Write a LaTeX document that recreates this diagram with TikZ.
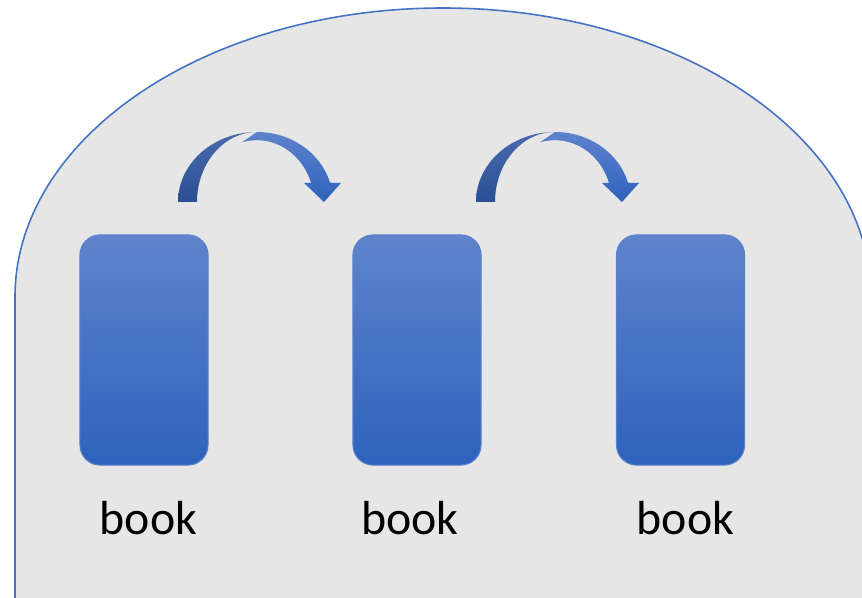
\documentclass[tikz,border=0pt]{standalone}
\usepackage{fontspec}
\setmainfont{Carlito}

\definecolor{panelgrey}{HTML}{E6E6E6}
\definecolor{paneledge}{HTML}{4472C4}
\definecolor{boxtop}{HTML}{5F84CC}
\definecolor{boxbot}{HTML}{2E62BC}
\definecolor{boxedge}{HTML}{5A80CC}
\definecolor{hopdarktop}{HTML}{4A6AAD}
\definecolor{hopdarkbot}{HTML}{2B4F94}
\definecolor{hoplighttop}{HTML}{5E82CC}
\definecolor{hoplightbot}{HTML}{2F62BD}

\tikzstyle{bookbox}=[draw=boxedge, line width=0.3pt, rounded corners=0.2cm, minimum width=1.28cm, minimum height=2.3cm, top color=boxtop, bottom color=boxbot, inner sep=0pt]
\tikzstyle{booklabel}=[anchor=base, inner sep=0pt, font=\fontsize{13.6}{16}\selectfont]

% curved hop arrow, origin at the outer foot
\newcommand{\hoparrow}[1]{%
\begin{scope}[shift={#1}]
\shade[top color=hoplighttop, bottom color=hoplightbot]
  (79,70) arc[start angle=90, end angle=16, x radius=76, y radius=70]
  -- (163,19) -- (146,0) -- (126,19) -- (133,19)
  arc[start angle=18, end angle=105, x radius=57, y radius=62] -- cycle;
\shade[top color=hopdarktop, bottom color=hopdarkbot]
  (0,0) arc[start angle=180, end angle=90, x radius=79, y radius=70]
  arc[start angle=90, end angle=180, x radius=60, y radius=70] -- cycle;
\end{scope}}

\begin{document}
\begin{tikzpicture}[x=0.01cm, y=0.01cm]
\useasboundingbox (0,0) rectangle (862,597);
\clip (0,0) rectangle (862,597);

\filldraw[fill=panelgrey, draw=paneledge, line width=0.45pt]
  (15,-10) -- (15,300) arc[start angle=180, end angle=0, x radius=428, y radius=289] -- (871,-10);

\node[bookbox] (book1) at (144,247) {};
\node[bookbox] (book2) at (417,247) {};
\node[bookbox] (book3) at (680.5,247) {};

\node[booklabel] (label1) at (148.5,63) {book};
\node[booklabel] (label2) at (410,63) {book};
\node[booklabel] (label3) at (685.5,63) {book};

\hoparrow{(178,395)}
\hoparrow{(476,395)}
\end{tikzpicture}
\end{document}
